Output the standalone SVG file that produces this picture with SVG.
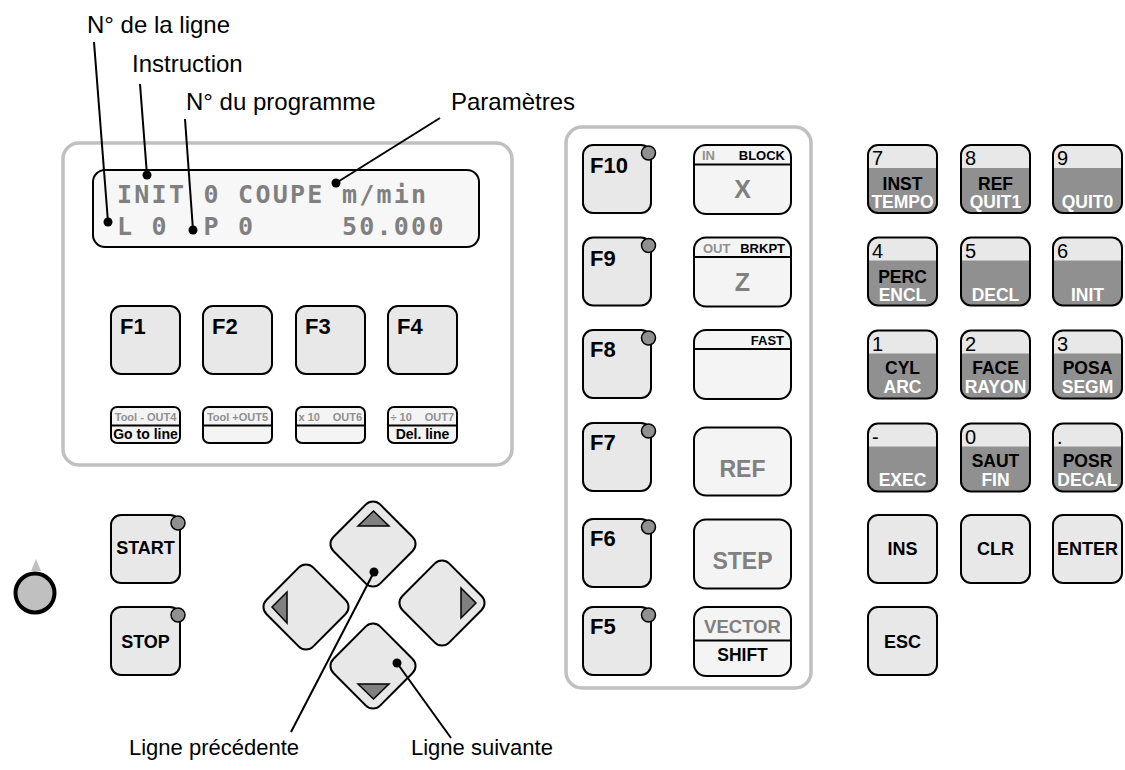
<svg xmlns="http://www.w3.org/2000/svg" width="1125" height="770" viewBox="0 0 1125 770">
  <style>
    .panel { fill: #ffffff; stroke: #c0c0c0; stroke-width: 3.5; }
    .key { fill: #e8e8e8; stroke: #000000; stroke-width: 2; }
    .keyl { fill: #f4f4f4; stroke: #000000; stroke-width: 2; }
    .kout { fill: none; stroke: #000000; stroke-width: 2; }
    .div { stroke: #000000; stroke-width: 2; }
    .led { fill: #909090; stroke: #000000; stroke-width: 1.5; }
    .arrow { fill: #808080; stroke: #000000; stroke-width: 1.5; stroke-linejoin: miter; }
    .b { font-family: "Liberation Sans", Arial, sans-serif; font-weight: bold; }
    .r { font-family: "Liberation Sans", Arial, sans-serif; }
    .lcd { font-family: "DejaVu Sans Mono", "Liberation Mono", monospace; font-weight: bold; font-size: 25px; fill: #808080; letter-spacing: 2.25px; }
    .fk { font-size: 22px; fill: #000000; }
    .cap { font-size: 18px; fill: #000000; text-anchor: middle; }
    .num { font-size: 20px; fill: #000000; }
    .top { font-size: 17.5px; fill: #000000; text-anchor: middle; }
    .bot { font-size: 17.5px; fill: #ffffff; text-anchor: middle; }
    .small { font-size: 11px; fill: #909090; }
    .tag { font-size: 13px; }
    .big { font-size: 23px; fill: #808080; text-anchor: middle; }
    .note { font-size: 24px; fill: #000000; }
    .note2 { font-size: 22px; fill: #000000; }
    .lead { stroke: #000000; stroke-width: 2; fill: none; }
  </style>
  <defs>
    <clipPath id="kc"><rect x="0" y="0" width="69" height="68" rx="10"/></clipPath>
  </defs>

  <!-- panels -->
  <rect class="panel" x="63" y="143" width="449" height="322" rx="16"/>
  <rect class="panel" x="566" y="127" width="245" height="561" rx="16"/>

  <!-- LCD -->
  <g id="lcd">
    <rect x="93" y="170" width="386" height="77" rx="12" fill="#f7f7f7" stroke="#000000" stroke-width="2"/>
    <text class="lcd" x="117" y="203" xml:space="preserve">INIT 0 COUPE m/min</text>
    <text class="lcd" x="117" y="235" xml:space="preserve">L 0  P 0     50.000</text>
  </g>

  <!-- soft keys F1..F4 -->
  <g id="F1"><rect class="key" x="111" y="306" width="69" height="68" rx="10"/><text class="b fk" x="120" y="334">F1</text></g>
  <g id="F2"><rect class="key" x="203" y="306" width="69" height="68" rx="10"/><text class="b fk" x="212" y="334">F2</text></g>
  <g id="F3"><rect class="key" x="296" y="306" width="69" height="68" rx="10"/><text class="b fk" x="305" y="334">F3</text></g>
  <g id="F4"><rect class="key" x="388" y="306" width="69" height="68" rx="10"/><text class="b fk" x="397" y="334">F4</text></g>

  <!-- soft key legends -->
  <g id="legend1">
    <rect class="keyl" x="111" y="407" width="69" height="36" rx="6"/>
    <line class="div" x1="111" y1="425.5" x2="180" y2="425.5"/>
    <text class="b small" x="145.5" y="420.5" text-anchor="middle">Tool - OUT4</text>
    <text class="b" x="145.5" y="439" text-anchor="middle" font-size="14">Go to line</text>
  </g>
  <g id="legend2">
    <rect class="keyl" x="203" y="407" width="69" height="36" rx="6"/>
    <line class="div" x1="203" y1="425.5" x2="272" y2="425.5"/>
    <text class="b small" x="237.5" y="420.5" text-anchor="middle">Tool +OUT5</text>
  </g>
  <g id="legend3">
    <rect class="keyl" x="296" y="407" width="69" height="36" rx="6"/>
    <line class="div" x1="296" y1="425.5" x2="365" y2="425.5"/>
    <text class="b small" x="298.5" y="420.5">x 10</text>
    <text class="b small" x="362" y="420.5" text-anchor="end">OUT6</text>
  </g>
  <g id="legend4">
    <rect class="keyl" x="388" y="407" width="69" height="36" rx="6"/>
    <line class="div" x1="388" y1="425.5" x2="457" y2="425.5"/>
    <text class="b small" x="390.5" y="420.5">÷ 10</text>
    <text class="b small" x="454" y="420.5" text-anchor="end">OUT7</text>
    <text class="b" x="422.5" y="439" text-anchor="middle" font-size="14">Del. line</text>
  </g>

  <!-- START / STOP -->
  <g id="start">
    <rect class="key" x="111" y="515" width="69" height="68" rx="10"/>
    <circle class="led" cx="178" cy="523" r="7"/>
    <text class="b cap" x="145.5" y="554">START</text>
  </g>
  <g id="stop">
    <rect class="key" x="111" y="607" width="69" height="68" rx="10"/>
    <circle class="led" cx="178" cy="615" r="7"/>
    <text class="b cap" x="145.5" y="648">STOP</text>
  </g>

  <!-- feed override knob -->
  <g id="knob">
    <polygon points="36,559 41,571 31,571" fill="#c0c0c0"/>
    <circle cx="35" cy="593" r="19.5" fill="#c0c0c0" stroke="#000000" stroke-width="4"/>
  </g>

  <!-- cursor keys -->
  <g id="up">
    <rect class="key" x="-33" y="-33" width="66" height="66" rx="10" transform="translate(373,544) rotate(45)"/>
    <polygon class="arrow" points="358,526 389,526 373.5,511"/>
  </g>
  <g id="left">
    <rect class="key" x="-33" y="-33" width="66" height="66" rx="10" transform="translate(306,607) rotate(45)"/>
    <polygon class="arrow" points="287,592 287,623 272,607"/>
  </g>
  <g id="right">
    <rect class="key" x="-33" y="-33" width="66" height="66" rx="10" transform="translate(442,603) rotate(45)"/>
    <polygon class="arrow" points="461,588 461,618 476,603"/>
  </g>
  <g id="down">
    <rect class="key" x="-33" y="-33" width="66" height="66" rx="10" transform="translate(373,666) rotate(45)"/>
    <polygon class="arrow" points="358,684 389,684 373.5,699"/>
  </g>

  <!-- function keys F10..F5 -->
  <g id="F10"><rect class="key" x="583" y="145" width="68" height="68" rx="10"/><circle class="led" cx="648.5" cy="153" r="7"/><text class="b fk" x="590" y="173">F10</text></g>
  <g id="F9"><rect class="key" x="583" y="237.5" width="68" height="68" rx="10"/><circle class="led" cx="648.5" cy="245.5" r="7"/><text class="b fk" x="590" y="265.5">F9</text></g>
  <g id="F8"><rect class="key" x="583" y="330" width="68" height="68" rx="10"/><circle class="led" cx="648.5" cy="338" r="7"/><text class="b fk" x="590" y="357">F8</text></g>
  <g id="F7"><rect class="key" x="583" y="423" width="68" height="68" rx="10"/><circle class="led" cx="648.5" cy="431" r="7"/><text class="b fk" x="590" y="450">F7</text></g>
  <g id="F6"><rect class="key" x="583" y="519" width="68" height="68" rx="10"/><circle class="led" cx="648.5" cy="527" r="7"/><text class="b fk" x="590" y="546">F6</text></g>
  <g id="F5"><rect class="key" x="583" y="607" width="68" height="68" rx="10"/><circle class="led" cx="648.5" cy="615" r="7"/><text class="b fk" x="590" y="634">F5</text></g>

  <!-- axis / mode keys -->
  <g id="keyX">
    <rect class="keyl" x="694" y="145" width="97" height="69" rx="12"/>
    <line class="div" x1="694" y1="164.5" x2="791" y2="164.5"/>
    <text class="b tag" x="702" y="160" fill="#909090">IN</text>
    <text class="b tag" x="785" y="160" text-anchor="end">BLOCK</text>
    <text class="b" x="742.5" y="198" font-size="25" fill="#808080" text-anchor="middle">X</text>
  </g>
  <g id="keyZ">
    <rect class="keyl" x="694" y="237.5" width="97" height="69" rx="12"/>
    <line class="div" x1="694" y1="257" x2="791" y2="257"/>
    <text class="b tag" x="703" y="252.5" fill="#909090">OUT</text>
    <text class="b tag" x="785" y="252.5" text-anchor="end">BRKPT</text>
    <text class="b" x="742.5" y="291" font-size="25" fill="#808080" text-anchor="middle">Z</text>
  </g>
  <g id="keyFast">
    <rect class="keyl" x="694" y="330" width="97" height="69" rx="12"/>
    <line class="div" x1="694" y1="349" x2="791" y2="349"/>
    <text class="b tag" x="784" y="345" text-anchor="end">FAST</text>
  </g>
  <g id="keyRef">
    <rect class="keyl" x="694" y="427.5" width="97" height="68" rx="12"/>
    <text class="b big" x="742.5" y="477">REF</text>
  </g>
  <g id="keyStep">
    <rect class="keyl" x="694" y="519.5" width="97" height="69" rx="12"/>
    <text class="b big" x="742.5" y="569">STEP</text>
  </g>
  <g id="keyShift">
    <rect class="keyl" x="694" y="607" width="97" height="69" rx="12"/>
    <line class="div" x1="694" y1="640.5" x2="791" y2="640.5"/>
    <text class="b" x="742.5" y="633" font-size="18.5" fill="#808080" text-anchor="middle">VECTOR</text>
    <text class="b" x="742.5" y="661" font-size="17.5" text-anchor="middle">SHIFT</text>
  </g>

  <!-- numeric keypad -->
  <g id="n7" transform="translate(868,145)">
    <g clip-path="url(#kc)"><rect width="69" height="68" fill="#909090"/><rect width="69" height="23" fill="#e8e8e8"/>
      <text class="r num" x="4" y="20">7</text><text class="b top" x="34.5" y="45">INST</text><text class="b bot" x="34.5" y="63">TEMPO</text></g>
    <rect class="kout" width="69" height="68" rx="10"/>
  </g>
  <g id="n8" transform="translate(961,145)">
    <g clip-path="url(#kc)"><rect width="69" height="68" fill="#909090"/><rect width="69" height="23" fill="#e8e8e8"/>
      <text class="r num" x="4" y="20">8</text><text class="b top" x="34.5" y="45">REF</text><text class="b bot" x="34.5" y="63">QUIT1</text></g>
    <rect class="kout" width="69" height="68" rx="10"/>
  </g>
  <g id="n9" transform="translate(1053,145)">
    <g clip-path="url(#kc)"><rect width="69" height="68" fill="#909090"/><rect width="69" height="23" fill="#e8e8e8"/>
      <text class="r num" x="4" y="20">9</text><text class="b bot" x="34.5" y="63">QUIT0</text></g>
    <rect class="kout" width="69" height="68" rx="10"/>
  </g>
  <g id="n4" transform="translate(868,237.5)">
    <g clip-path="url(#kc)"><rect width="69" height="68" fill="#909090"/><rect width="69" height="23" fill="#e8e8e8"/>
      <text class="r num" x="4" y="20">4</text><text class="b top" x="34.5" y="45">PERC</text><text class="b bot" x="34.5" y="63">ENCL</text></g>
    <rect class="kout" width="69" height="68" rx="10"/>
  </g>
  <g id="n5" transform="translate(961,237.5)">
    <g clip-path="url(#kc)"><rect width="69" height="68" fill="#909090"/><rect width="69" height="23" fill="#e8e8e8"/>
      <text class="r num" x="4" y="20">5</text><text class="b bot" x="34.5" y="63">DECL</text></g>
    <rect class="kout" width="69" height="68" rx="10"/>
  </g>
  <g id="n6" transform="translate(1053,237.5)">
    <g clip-path="url(#kc)"><rect width="69" height="68" fill="#909090"/><rect width="69" height="23" fill="#e8e8e8"/>
      <text class="r num" x="4" y="20">6</text><text class="b bot" x="34.5" y="63">INIT</text></g>
    <rect class="kout" width="69" height="68" rx="10"/>
  </g>
  <g id="n1" transform="translate(868,330.5)">
    <g clip-path="url(#kc)"><rect width="69" height="68" fill="#909090"/><rect width="69" height="23" fill="#e8e8e8"/>
      <text class="r num" x="4" y="20">1</text><text class="b top" x="34.5" y="43">CYL</text><text class="b bot" x="34.5" y="62">ARC</text></g>
    <rect class="kout" width="69" height="68" rx="10"/>
  </g>
  <g id="n2" transform="translate(961,330.5)">
    <g clip-path="url(#kc)"><rect width="69" height="68" fill="#909090"/><rect width="69" height="23" fill="#e8e8e8"/>
      <text class="r num" x="4" y="20">2</text><text class="b top" x="34.5" y="43">FACE</text><text class="b bot" x="34.5" y="62" font-size="15.5">RAYON</text></g>
    <rect class="kout" width="69" height="68" rx="10"/>
  </g>
  <g id="n3" transform="translate(1053,330.5)">
    <g clip-path="url(#kc)"><rect width="69" height="68" fill="#909090"/><rect width="69" height="23" fill="#e8e8e8"/>
      <text class="r num" x="4" y="20">3</text><text class="b top" x="34.5" y="43">POSA</text><text class="b bot" x="34.5" y="62">SEGM</text></g>
    <rect class="kout" width="69" height="68" rx="10"/>
  </g>
  <g id="nminus" transform="translate(868,423.5)">
    <g clip-path="url(#kc)"><rect width="69" height="68" fill="#909090"/><rect width="69" height="23" fill="#e8e8e8"/>
      <text class="r num" x="4" y="20">-</text><text class="b bot" x="34.5" y="62">EXEC</text></g>
    <rect class="kout" width="69" height="68" rx="10"/>
  </g>
  <g id="n0" transform="translate(961,423.5)">
    <g clip-path="url(#kc)"><rect width="69" height="68" fill="#909090"/><rect width="69" height="23" fill="#e8e8e8"/>
      <text class="r num" x="4" y="20">0</text><text class="b top" x="34.5" y="43">SAUT</text><text class="b bot" x="34.5" y="62">FIN</text></g>
    <rect class="kout" width="69" height="68" rx="10"/>
  </g>
  <g id="ndot" transform="translate(1053,423.5)">
    <g clip-path="url(#kc)"><rect width="69" height="68" fill="#909090"/><rect width="69" height="23" fill="#e8e8e8"/>
      <text class="r num" x="4" y="20">.</text><text class="b top" x="34.5" y="43">POSR</text><text class="b bot" x="34.5" y="62">DECAL</text></g>
    <rect class="kout" width="69" height="68" rx="10"/>
  </g>
  <g id="ins"><rect class="key" x="868" y="515" width="69" height="68" rx="10"/><text class="b cap" x="902.5" y="555">INS</text></g>
  <g id="clr"><rect class="key" x="961" y="515" width="69" height="68" rx="10"/><text class="b cap" x="995.5" y="555">CLR</text></g>
  <g id="enter"><rect class="key" x="1053" y="515" width="69" height="68" rx="10"/><text class="b cap" x="1087.5" y="555">ENTER</text></g>
  <g id="esc"><rect class="key" x="868" y="607" width="69" height="68" rx="10"/><text class="b cap" x="902.5" y="648">ESC</text></g>

  <!-- callouts -->
  <g id="callouts">
    <line class="lead" x1="94" y1="42" x2="108" y2="222"/>
    <line class="lead" x1="140" y1="84" x2="147" y2="175"/>
    <line class="lead" x1="185" y1="119" x2="193" y2="230"/>
    <line class="lead" x1="440" y1="118" x2="336" y2="183"/>
    <line class="lead" x1="291" y1="732" x2="374" y2="572"/>
    <line class="lead" x1="451" y1="738" x2="397" y2="663"/>
    <circle cx="108" cy="222" r="4.5"/>
    <circle cx="147" cy="175" r="4.5"/>
    <circle cx="193" cy="230" r="4.5"/>
    <circle cx="336" cy="183" r="4.5"/>
    <circle cx="374" cy="572" r="4.5"/>
    <circle cx="397" cy="663" r="4.5"/>
  </g>
  <g id="labels">
    <text class="r note" x="87" y="33">N° de la ligne</text>
    <text class="r note" x="132" y="72">Instruction</text>
    <text class="r note" x="186" y="110">N° du programme</text>
    <text class="r note" x="451" y="110">Paramètres</text>
    <text class="r note2" x="129" y="755">Ligne précédente</text>
    <text class="r note2" x="411" y="755">Ligne suivante</text>
  </g>
</svg>
